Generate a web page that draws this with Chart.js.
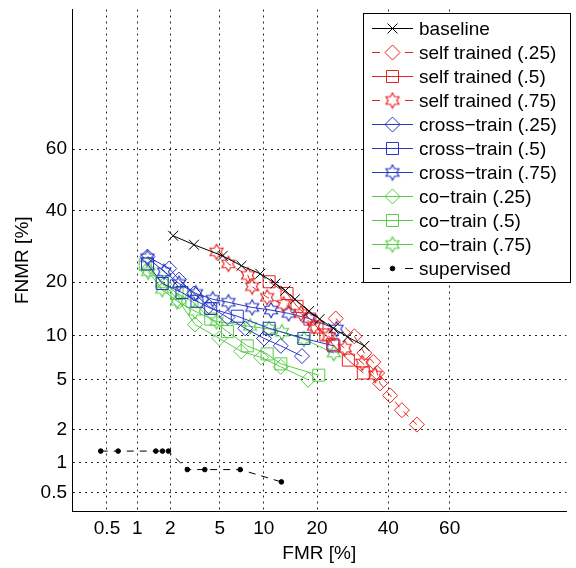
<!DOCTYPE html>
<html><head><meta charset="utf-8">
<script src="https://cdn.jsdelivr.net/npm/chart.js@4"></script>
<style>html,body{margin:0;padding:0;background:#fff;overflow:hidden}</style>
</head><body>
<canvas id="c" width="576" height="568" style="display:block;width:576px;height:568px"></canvas>
<script>
// ---- tick labels (percent) ----
const tickValues = [0.5, 1, 2, 5, 10, 20, 40, 60];
const tickLabels = ['0.5', '1', '2', '5', '10', '20', '40', '60'];

// ---- series (FMR %, FNMR %) ----
const baselineFMR  = [2.12, 3.16, 5.25, 7.14, 9.5, 11.8, 13.5, 15.3, 18.2, 20.6, 24.0, 27.8, 32.6];
const baselineFNMR = [32.3, 29.7, 26.6, 24.0, 22.0, 19.7, 18.1, 16.3, 14.0, 12.6, 11.1, 9.8, 8.6];

const self25FMR  = [24.6, 29.7, 32.6, 35.3, 36.5, 37.4, 40.6, 44.4, 49.3];
const self25FNMR = [12.7, 9.9, 7.7, 6.7, 5.6, 4.7, 3.8, 2.9, 2.2];

const self50FMR  = [10.8, 13.8, 15.7, 18.4, 20.0, 22.1, 23.8, 28.0, 32.3];
const self50FNMR = [20.1, 17.5, 14.9, 12.6, 11.3, 10.1, 8.8, 6.9, 5.6];

const self75FMR  = [4.73, 5.78, 7.9, 8.42, 10.5, 13.2, 16.5, 19.3, 22.8, 27.0, 32.0, 35.9];
const self75FNMR = [27.7, 24.5, 21.6, 19.0, 16.7, 15.3, 13.6, 11.4, 9.9, 8.3, 6.6, 5.4];

const cross25FMR  = [1.25, 1.96, 2.38, 3.16, 4.13, 5.69, 7.57, 10.05, 12.7, 16.7];
const cross25FNMR = [26.4, 23.3, 20.6, 17.5, 14.9, 12.9, 11.1, 9.6, 8.6, 7.35];

const cross50FMR  = [1.25, 1.70, 2.52, 3.34, 4.28, 6.68, 10.8, 17.1, 24.1];
const cross50FNMR = [24.5, 19.7, 17.7, 15.9, 14.5, 13.1, 11.1, 9.6, 8.6];

const cross75FMR  = [1.25, 1.77, 2.38, 3.28, 4.43, 5.78, 8.42, 11.1, 14.1, 18.2, 24.8];
const cross75FNMR = [26.1, 22.5, 19.7, 17.5, 16.3, 15.7, 14.7, 14.2, 13.6, 12.7, 11.0];

const co25FMR  = [1.25, 1.77, 2.38, 3.22, 4.98, 7.12, 9.63, 12.7, 18.0];
const co25FNMR = [23.0, 19.5, 15.9, 11.7, 9.6, 7.9, 7.2, 6.2, 5.0];

const co50FMR  = [1.19, 1.70, 2.29, 3.04, 4.28, 5.69, 7.81, 10.5, 12.7, 20.4];
const co50FNMR = [24.3, 20.1, 17.5, 15.9, 12.6, 10.6, 8.6, 7.6, 6.5, 5.4];

const co75FMR  = [1.27, 1.70, 2.29, 3.22, 4.73, 8.17, 10.8, 12.9, 17.1, 24.1];
const co75FNMR = [22.5, 18.4, 15.9, 14.0, 12.2, 11.4, 11.0, 10.5, 9.5, 7.7];

const supFMR  = [0.43, 0.65, 1.49, 1.71, 1.93, 2.79, 3.85, 7.0, 12.8];
const supFNMR = [1.28, 1.28, 1.28, 1.28, 1.28, 0.855, 0.855, 0.855, 0.646];

const seriesLabels = ['baseline', 'self trained (.25)', 'self trained (.5)', 'self trained (.75)',
  'cross\u2212train (.25)', 'cross\u2212train (.5)', 'cross\u2212train (.75)',
  'co\u2212train (.25)', 'co\u2212train (.5)', 'co\u2212train (.75)', 'supervised'];

// ---- inverse normal CDF (probit) ----
function probit(p) {
  const a = [-3.969683028665376e+01, 2.209460984245205e+02, -2.759285104469687e+02, 1.383577518672690e+02, -3.066479806614716e+01, 2.506628277459239e+00];
  const b = [-5.447609879822406e+01, 1.615858368580409e+02, -1.556989798598866e+02, 6.680131188771972e+01, -1.328068155288572e+01];
  const c = [-7.784894002430293e-03, -3.223964580411365e-01, -2.400758277161838e+00, -2.549732539343734e+00, 4.374664141464968e+00, 2.938163982698783e+00];
  const d = [7.784695709041462e-03, 3.224671290700398e-01, 2.445134137142996e+00, 3.754408661907416e+00];
  const pl = 0.02425, ph = 1 - pl;
  let q, r;
  if (p < pl) { q = Math.sqrt(-2 * Math.log(p)); return (((((c[0]*q+c[1])*q+c[2])*q+c[3])*q+c[4])*q+c[5]) / ((((d[0]*q+d[1])*q+d[2])*q+d[3])*q+1); }
  if (p <= ph) { q = p - 0.5; r = q*q; return (((((a[0]*r+a[1])*r+a[2])*r+a[3])*r+a[4])*r+a[5])*q / (((((b[0]*r+b[1])*r+b[2])*r+b[3])*r+b[4])*r+1); }
  q = Math.sqrt(-2 * Math.log(1 - p)); return -(((((c[0]*q+c[1])*q+c[2])*q+c[3])*q+c[4])*q+c[5]) / ((((d[0]*q+d[1])*q+d[2])*q+d[3])*q+1);
}
const pts = (xs, ys) => xs.map((v, i) => ({ x: probit(v / 100), y: probit(ys[i] / 100) }));

const RED = 'rgb(232,36,32)', BLUE = 'rgb(40,56,196)', GREEN = 'rgb(88,204,72)', BLACK = '#000';
const FONT = "'Liberation Sans', Arial, Helvetica, sans-serif";

function hexagram(color, R) {
  const s = Math.ceil(2 * R + 3);
  const cv = document.createElement('canvas'); cv.width = s; cv.height = s;
  const g = cv.getContext('2d');
  g.strokeStyle = color; g.lineWidth = 1.2; g.beginPath();
  const r = R / Math.sqrt(3), cx = s / 2, cy = s / 2;
  for (let i = 0; i < 12; i++) {
    const ang = -Math.PI / 2 + i * Math.PI / 6, rr = i % 2 === 0 ? R : r;
    const px = cx + rr * Math.cos(ang), py = cy + rr * Math.sin(ang);
    i === 0 ? g.moveTo(px, py) : g.lineTo(px, py);
  }
  g.closePath(); g.stroke();
  return cv;
}
const starRed = hexagram(RED, 7.5), starBlue = hexagram(BLUE, 7.5), starGreen = hexagram(GREEN, 7.5);

const DASH = [7, 6];
function ds(i, data, color, style, radius, dash, fillPt) {
  return {
    label: seriesLabels[i], data, showLine: true, borderColor: color, borderWidth: 1,
    borderDash: dash || [], pointStyle: style, pointRadius: radius, pointHoverRadius: radius,
    pointBorderColor: color, pointBackgroundColor: fillPt ? color : 'rgba(0,0,0,0)',
    pointBorderWidth: 1, tension: 0, fill: false
  };
}
const datasets = [
  ds(0, pts(baselineFMR, baselineFNMR), BLACK, 'crossRot', 7),
  ds(1, pts(self25FMR, self25FNMR), RED, 'rectRot', 7.5, DASH),
  ds(2, pts(self50FMR, self50FNMR), RED, 'rect', 8.5),
  ds(3, pts(self75FMR, self75FNMR), RED, starRed, 7.5, DASH),
  ds(4, pts(cross25FMR, cross25FNMR), BLUE, 'rectRot', 7.5),
  ds(5, pts(cross50FMR, cross50FNMR), BLUE, 'rect', 8.5),
  ds(6, pts(cross75FMR, cross75FNMR), BLUE, starBlue, 7.5),
  ds(7, pts(co25FMR, co25FNMR), GREEN, 'rectRot', 7.5),
  ds(8, pts(co50FMR, co50FNMR), GREEN, 'rect', 8.5),
  ds(9, pts(co75FMR, co75FNMR), GREEN, starGreen, 7.5),
  ds(10, pts(supFMR, supFNMR), BLACK, 'circle', 2.3, DASH, true)
];

function drawMarker(ctx, style, x, y, r, color, fillPt) {
  ctx.save();
  ctx.strokeStyle = color; ctx.fillStyle = color; ctx.lineWidth = 1; ctx.setLineDash([]);
  if (typeof style !== 'string') { ctx.drawImage(style, x - style.width / 2, y - style.height / 2); ctx.restore(); return; }
  ctx.beginPath();
  if (style === 'crossRot') {
    const o = r * Math.SQRT1_2;
    ctx.moveTo(x - o, y - o); ctx.lineTo(x + o, y + o); ctx.moveTo(x - o, y + o); ctx.lineTo(x + o, y - o); ctx.stroke();
  } else if (style === 'rectRot') {
    ctx.moveTo(x, y - r); ctx.lineTo(x + r, y); ctx.lineTo(x, y + r); ctx.lineTo(x - r, y); ctx.closePath(); ctx.stroke();
  } else if (style === 'rect') {
    const h = r * Math.SQRT1_2; ctx.rect(x - h, y - h, 2 * h, 2 * h); ctx.stroke();
  } else if (style === 'circle') {
    ctx.arc(x, y, r, 0, Math.PI * 2); if (fillPt) ctx.fill(); ctx.stroke();
  }
  ctx.restore();
}

const legendPlugin = {
  id: 'mlegend',
  afterDraw(chart) {
    const ctx = chart.ctx;
    const L = 363.5, T = 13.5, R = 570.5, B = 282.5;
    ctx.save();
    ctx.fillStyle = '#fff'; ctx.fillRect(L, T, R - L, B - T);
    ctx.strokeStyle = '#000'; ctx.lineWidth = 1; ctx.strokeRect(L, T, R - L, B - T);
    ctx.font = '19px ' + FONT; ctx.textBaseline = 'middle'; ctx.textAlign = 'left';
    datasets.forEach((d, i) => {
      const y = Math.round(28 + i * 24) + 0.5;
      ctx.strokeStyle = d.borderColor; ctx.lineWidth = 1;
      ctx.beginPath();
      if (d.borderDash.length) {
        ctx.moveTo(372, y); ctx.lineTo(380, y); ctx.moveTo(405, y); ctx.lineTo(413, y);
      } else { ctx.moveTo(372, y); ctx.lineTo(413, y); }
      ctx.stroke();
      drawMarker(ctx, d.pointStyle, 392.5, y, d.pointRadius, d.pointBorderColor, i === 10);
      ctx.fillStyle = '#000';
      ctx.fillText(d.label, 419, y + 1);
    });
    ctx.restore();
  }
};

const tickFont = { family: FONT, size: 19 };
new Chart(document.getElementById('c'), {
  type: 'scatter',
  data: { datasets },
  options: {
    responsive: false, animation: false, devicePixelRatio: 1,
    layout: { padding: { top: 6, right: 0, bottom: 0, left: 0 } },
    plugins: { legend: { display: false }, tooltip: { enabled: false } },
    scales: {
      x: {
        type: 'linear', min: probit(0.002087), max: probit(0.8884),
        afterFit(s) { s.height = 57; s.paddingLeft = 0; s.paddingRight = 0; },
        afterBuildTicks(s) { s.ticks = tickValues.map(v => ({ value: probit(v / 100) })); },
        ticks: { autoSkip: false, maxRotation: 0, minRotation: 0, padding: 6, color: '#000', font: tickFont,
                 callback: (v, i) => tickLabels[i] },
        grid: { drawTicks: false, color: 'rgba(0,0,0,0.85)', lineWidth: 1 },
        border: { display: true, color: '#000', width: 1, dash: [2, 4] },
        title: { display: true, text: 'FMR [%]', color: '#000', font: tickFont, padding: { top: 0, bottom: 3 } }
      },
      y: {
        type: 'linear', min: probit(0.00321), max: probit(0.9198),
        afterFit(s) { s.width = 72; s.paddingTop = 0; s.paddingBottom = 0; },
        afterBuildTicks(s) { s.ticks = tickValues.map(v => ({ value: probit(v / 100) })); },
        ticks: { autoSkip: false, padding: 5, color: '#000', font: tickFont,
                 callback: (v, i) => tickLabels[i] },
        grid: { drawTicks: false, color: 'rgba(0,0,0,0.85)', lineWidth: 1 },
        border: { display: true, color: '#000', width: 1, dash: [2, 4] },
        title: { display: true, text: 'FNMR [%]', color: '#000', font: tickFont, padding: { top: 11, bottom: 0 } }
      }
    }
  },
  plugins: [legendPlugin]
});
</script>
</body></html>
